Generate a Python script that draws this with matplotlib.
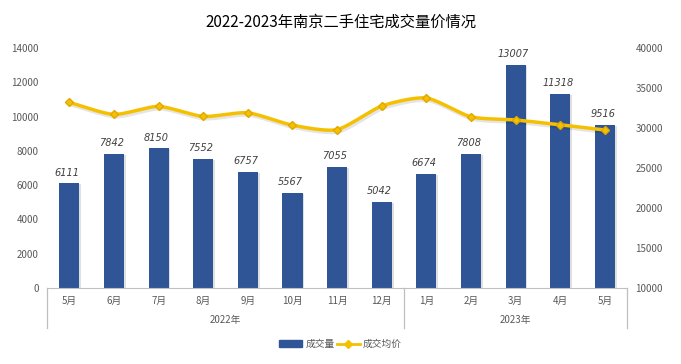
import numpy as np
import matplotlib
matplotlib.use("Agg")
import matplotlib.pyplot as plt
from matplotlib.lines import Line2D
from matplotlib.patches import Patch

plt.rcParams['font.family'] = ['Noto Sans CJK SC', 'DejaVu Sans']

# dados
meses = ["5月", "6月", "7月", "8月", "9月", "10月", "11月", "12月", "1月", "2月", "3月", "4月", "5月"]
anos = ["2022年", "2023年"]
meses_por_ano = [8, 5]
volume = [6111, 7842, 8150, 7552, 6757, 5567, 7055, 5042, 6674, 7808, 13007, 11318, 9516]
preco_medio = [33200, 31700, 32700, 31450, 31900, 30350, 29800, 32750, 33750, 31400, 31000, 30400, 29750]

AZUL = "#2F5597"
AMARELO = "#F5C000"
CINZA = "#595959"


def curva_suave(x, y, n=20, tensao=0.7):
    # curva suavizada (estilo Excel) passando pelos pontos
    x = np.asarray(x, float)
    y = np.asarray(y, float)
    px = np.concatenate([[2 * x[0] - x[1]], x, [2 * x[-1] - x[-2]]])
    py = np.concatenate([[2 * y[0] - y[1]], y, [2 * y[-1] - y[-2]]])
    xs, ys = [], []
    t = np.linspace(0, 1, n, endpoint=False)
    h00 = 2 * t ** 3 - 3 * t ** 2 + 1
    h10 = t ** 3 - 2 * t ** 2 + t
    h01 = -2 * t ** 3 + 3 * t ** 2
    h11 = t ** 3 - t ** 2
    for i in range(1, len(px) - 2):
        for p, out in ((px, xs), (py, ys)):
            m1 = tensao * 0.5 * (p[i + 1] - p[i - 1])
            m2 = tensao * 0.5 * (p[i + 2] - p[i])
            out.extend(h00 * p[i] + h10 * m1 + h01 * p[i + 1] + h11 * m2)
    xs.append(x[-1])
    ys.append(y[-1])
    return np.array(xs), np.array(ys)


fig = plt.figure(figsize=(6.81, 3.64), dpi=100)
ax = fig.add_axes([0.069, 0.209, 0.852, 0.659])
x = np.arange(len(meses))

# sombra das barras
ax.bar(x + 0.04, volume, 0.45, color="#000000", alpha=0.12, zorder=1, bottom=-60)
ax.bar(x, volume, 0.45, color=AZUL, zorder=2)
for xi, v in zip(x, volume):
    ax.text(xi - 0.05, v + 330, str(v), ha="center", va="bottom", fontsize=7,
            style="italic", color="#404040", family="DejaVu Sans")

ax.set_xlim(-0.5, len(meses) - 0.5)
ax.set_ylim(0, 14000)
ax.set_yticks(range(0, 14001, 2000))
ax.tick_params(axis="y", length=0, labelsize=7, labelcolor=CINZA, pad=6)
ax.set_xticks([])
for s in ("top", "left", "right"):
    ax.spines[s].set_visible(False)
ax.spines["bottom"].set_color("#BFBFBF")

# eixo secundario
ax2 = ax.twinx()
xs, ys = curva_suave(x, preco_medio)
ax2.plot(xs + 0.03, ys - 250, color="#000000", alpha=0.10, lw=3, zorder=3)
ax2.plot(xs, ys, color=AMARELO, lw=2.5, zorder=4)
ax2.plot(x, preco_medio, ls="none", marker="D", ms=4, color=AMARELO, mec="#E0A800", zorder=5)
ax2.set_ylim(10000, 40000)
ax2.set_yticks(range(10000, 40001, 5000))
ax2.tick_params(axis="y", length=0, labelsize=7, labelcolor=CINZA, pad=6)
for s in ("top", "left", "right", "bottom"):
    ax2.spines[s].set_visible(False)

# rotulos de categoria em dois niveis
trans = ax.get_xaxis_transform()
for xi, m in zip(x, meses):
    ax.text(xi, -0.055, m, transform=trans, ha="center", va="center", fontsize=7, color=CINZA)
inicio = -0.5
for ano, n in zip(anos, meses_por_ano):
    ax.text(inicio + n / 2, -0.135, ano, transform=trans, ha="center", va="center", fontsize=7, color=CINZA)
    inicio += n
limites = np.cumsum([0] + meses_por_ano) - 0.5
for b in limites:
    ax.plot([b, b], [0, -0.165], transform=trans, color="#BFBFBF", lw=0.9, clip_on=False)

fig.text(0.5, 0.94, "2022-2023年南京二手住宅成交量价情况", ha="center", va="center", fontsize=11, color="#000000")

handles = [Patch(color=AZUL),
           Line2D([0], [0], color=AMARELO, lw=2, marker="D", ms=4)]
fig.legend(handles, ["成交量", "成交均价"], loc="center", bbox_to_anchor=(0.5, 0.055), ncol=2,
           frameon=False, fontsize=7, handlelength=2.4, columnspacing=0.2, handletextpad=0.3,
           labelcolor=CINZA)

fig.savefig("out.png", dpi=100, facecolor="white")
